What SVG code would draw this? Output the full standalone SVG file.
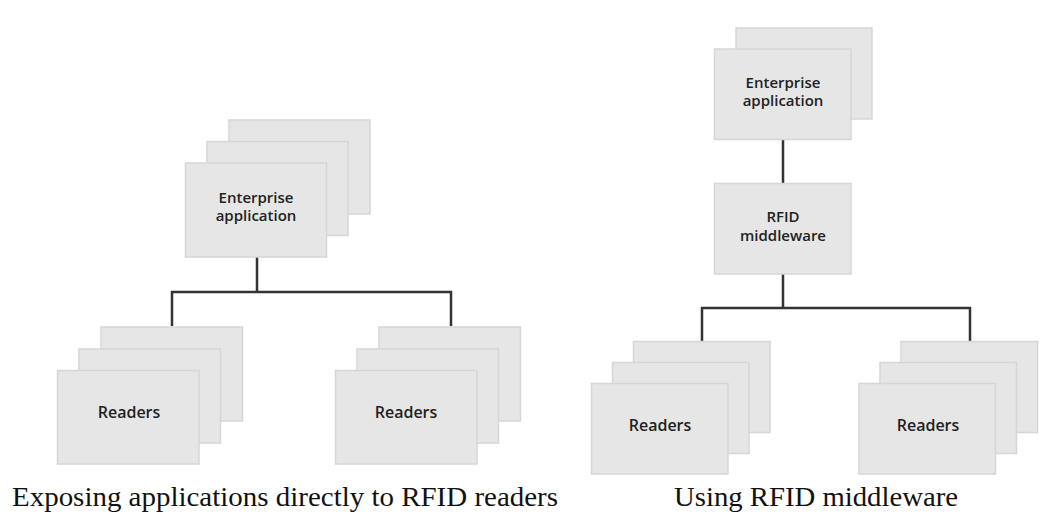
<svg xmlns="http://www.w3.org/2000/svg" width="1042" height="521" viewBox="0 0 1042 521">
<style>
.b{fill:#e6e6e6;stroke:#d6d6d6;stroke-width:1.5}
.t{font-family:"Open Sans","Noto Sans",sans-serif;font-weight:600;font-size:15px;fill:#222;text-anchor:middle}
.r{font-size:16px}
.c{fill:none;stroke:#333;stroke-width:2.5}
.cap{font-family:"Liberation Serif",serif;font-size:27px;fill:#111;text-anchor:middle}
</style>
<rect width="1042" height="521" fill="#fff"/>
<g id="connectors">
<path class="c" d="M257 257V292M172 326V292H451V326"/>
<path class="c" d="M783 139V184M783 274V308M702 341V308H970V341"/>
</g>
<g id="left-enterprise">
<rect class="b" x="229" y="120" width="141" height="94"/>
<rect class="b" x="207" y="141.5" width="141" height="94"/>
<rect class="b" x="185.5" y="163" width="141" height="94"/>
<text class="t" x="256" y="202.5">Enterprise</text>
<text class="t" x="256" y="221">application</text>
</g>
<g id="left-readers-1">
<rect class="b" x="101" y="327" width="141.5" height="94"/>
<rect class="b" x="79" y="349" width="141.5" height="94"/>
<rect class="b" x="57.5" y="370.5" width="141.5" height="93.5"/>
<text class="t r" x="129" y="417.5">Readers</text>
</g>
<g id="left-readers-2">
<rect class="b" x="379" y="327" width="141.5" height="94"/>
<rect class="b" x="357" y="349" width="141.5" height="94"/>
<rect class="b" x="335.5" y="370.5" width="141.5" height="93.5"/>
<text class="t r" x="406" y="417.5">Readers</text>
</g>
<g id="right-enterprise">
<rect class="b" x="736" y="28" width="136" height="91"/>
<rect class="b" x="714.5" y="49" width="136.5" height="90.5"/>
<text class="t" x="783" y="87.5">Enterprise</text>
<text class="t" x="783" y="105.5">application</text>
</g>
<g id="rfid-middleware">
<rect class="b" x="714.5" y="183.5" width="136.5" height="90.5"/>
<text class="t" x="783" y="222">RFID</text>
<text class="t" x="783" y="241">middleware</text>
</g>
<g id="right-readers-1">
<rect class="b" x="633.5" y="341.5" width="136.5" height="91"/>
<rect class="b" x="612.5" y="362.5" width="136.5" height="91"/>
<rect class="b" x="591.5" y="383.5" width="136.5" height="90.5"/>
<text class="t r" x="660" y="430.5">Readers</text>
</g>
<g id="right-readers-2">
<rect class="b" x="901" y="341.5" width="136.5" height="91"/>
<rect class="b" x="880" y="362.5" width="136.5" height="91"/>
<rect class="b" x="859" y="383.5" width="136.5" height="90.5"/>
<text class="t r" x="928" y="430.5">Readers</text>
</g>
<text class="cap" x="285" y="506" textLength="546" lengthAdjust="spacingAndGlyphs">Exposing applications directly to RFID readers</text>
<text class="cap" x="816" y="506" textLength="284" lengthAdjust="spacingAndGlyphs">Using RFID middleware</text>
</svg>
